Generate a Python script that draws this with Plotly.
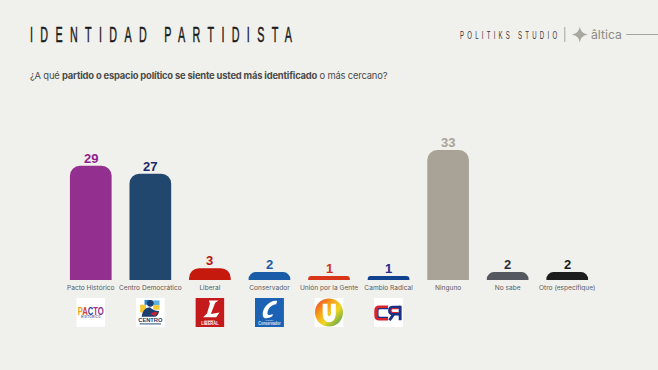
import base64
import plotly.graph_objects as go

categories = ["Pacto Histórico", "Centro Democrático", "Liberal", "Conservador",
              "Unión por la Gente", "Cambio Radical", "Ninguno", "No sabe", "Otro (especifique)"]
values = [29, 27, 3, 2, 1, 1, 33, 2, 2]
bar_colors = ["#93308f", "#22476f", "#c4190c", "#1a5ca8", "#d8351b", "#12428f", "#a8a396", "#55585f", "#1d1d1d"]
text_colors = ["#8f1f8f", "#1a2a6c", "#b8140a", "#1a5ca8", "#d0301a", "#1a2a8c", "#a8a396", "#2d2d3a", "#1d1d1d"]

BG = "#f0f0ec"


def uri(body):
    svg = f'<svg xmlns="http://www.w3.org/2000/svg" viewBox="0 0 60 60" width="60" height="60">{body}</svg>'
    return "data:image/svg+xml;base64," + base64.b64encode(svg.encode()).decode()


logo_pacto = uri('<rect width="60" height="60" fill="#fff"/>'
                 '<text x="30" y="35" text-anchor="middle" font-family="Liberation Sans" font-weight="700" font-size="24" textLength="54" lengthAdjust="spacingAndGlyphs">'
                 '<tspan fill="#e8a21c">P</tspan><tspan fill="#d5402a">A</tspan><tspan fill="#2c4a9c">C</tspan><tspan fill="#c6217f">T</tspan><tspan fill="#7c2d8f">O</tspan></text>'
                 '<text x="30" y="42" text-anchor="middle" font-family="Liberation Sans" font-weight="700" font-size="6" fill="#5a5a9a" textLength="40" lengthAdjust="spacing">HISTÓRICO</text>')
logo_centro = uri('<rect width="60" height="60" fill="#fff"/>'
                  '<rect x="9" y="14" width="12" height="16" fill="#f4c62f"/>'
                  '<rect x="18" y="4" width="12" height="10" fill="#2f83c9"/>'
                  '<rect x="36" y="5" width="13" height="10" fill="#5db0e0"/>'
                  '<rect x="36" y="15" width="13" height="9" fill="#f4c62f"/>'
                  '<circle cx="30" cy="11" r="7" fill="#1c3f72"/>'
                  '<path d="M12 39 Q14 20 29 19 Q36 26 48 27 Q47 37 40 39 Z" fill="#1c3f72"/>'
                  '<path d="M30 33 Q38 27 45 30 L40 37 Z" fill="#d5202a"/>'
                  '<text x="30" y="49" text-anchor="middle" font-family="Liberation Sans" font-weight="700" font-size="11" fill="#17365f" textLength="50" lengthAdjust="spacingAndGlyphs">CENTRO</text>'
                  '<rect x="8" y="52" width="44" height="3" fill="#6d84a8"/>')
logo_liberal = uri('<rect width="60" height="60" fill="#c41a1c"/>'
                   '<path d="M28 5 L48 5 L41 10 L32 33 L50 30 L43 40 L16 40 L24 32 L30 12 Z" fill="#fff"/>'
                   '<text x="30" y="47" text-anchor="middle" font-family="Liberation Sans" font-weight="700" font-size="5" fill="#f2d0d0">PARTIDO</text>'
                   '<text x="30" y="56" text-anchor="middle" font-family="Liberation Sans" font-weight="700" font-size="9.5" fill="#fff" textLength="36" lengthAdjust="spacingAndGlyphs">LIBERAL</text>')
logo_conservador = uri('<rect width="60" height="60" fill="#1c62b4"/>'
                       '<path d="M46 6 C30 4 16 20 16 34 C16 44 26 44 36 38 L37 33 C30 37 25 36 26 30 C27 22 34 14 44 13 Z" fill="#fff"/>'
                       '<text x="30" y="48" text-anchor="middle" font-family="Liberation Sans" font-size="5" fill="#dce8f6">Partido</text>'
                       '<text x="30" y="55" text-anchor="middle" font-family="Liberation Sans" font-weight="700" font-size="9.5" fill="#dce8f6" textLength="46" lengthAdjust="spacingAndGlyphs">Conservador</text>')
logo_union = uri('<defs><linearGradient id="g" x1="0" y1="0" x2="1" y2="1">'
                 '<stop offset="0" stop-color="#e8342a"/><stop offset="0.35" stop-color="#f6a11c"/>'
                 '<stop offset="0.6" stop-color="#f0d722"/><stop offset="1" stop-color="#2f9a5c"/></linearGradient></defs>'
                 '<rect width="60" height="60" fill="#fff"/>'
                 '<circle cx="30" cy="30" r="29" fill="url(#g)"/>'
                 '<path d="M17 12 L27 12 L27 34 Q30 42 34 34 L34 12 L44 12 L44 35 Q42 50 30 50 Q19 50 17 35 Z" fill="#fff"/>')
logo_cambio = uri('<rect width="60" height="60" fill="#fff"/>'
                  '<path d="M29 19 L11 19 Q4 19 4 26 L4 36 Q4 43 11 43 L29 43" fill="none" stroke="#d9232e" stroke-width="7"/>'
                  '<path d="M29 22 L12 22 Q8 22 8 26 L8 36 Q8 40 12 40 L29 40" fill="none" stroke="#1a2f86" stroke-width="2.5"/>'
                  '<path d="M54 19 L39 19 Q32 19 32 26 Q32 33 39 33 L54 33" fill="none" stroke="#1a2f86" stroke-width="6"/>'
                  '<path d="M54 16 L54 46" fill="none" stroke="#1a2f86" stroke-width="6"/>'
                  '<path d="M41 33 L32 46" fill="none" stroke="#1a2f86" stroke-width="6"/>'
                  '<path d="M50 22 L39 22 Q35 22 35 26 Q35 30 39 30 L50 30" fill="none" stroke="#d9232e" stroke-width="2.5"/>')
logos = [logo_pacto, logo_centro, logo_liberal, logo_conservador, logo_union, logo_cambio]

W, H = 658, 370
L, R = 60.8, 596.7
BASE, TOP = 280, 120
UNIT = 130 / 33

fig = go.Figure(go.Bar(
    x=categories, y=values, marker=dict(color=bar_colors, line_width=0),
    cliponaxis=False, hoverinfo="skip",
))


def px(x):
    return (x - L) / (R - L)


def py(y):
    return (BASE - y) / (BASE - TOP)


images = []
for i, src in enumerate(logos):
    images.append(dict(source=src, xref="paper", yref="paper", xanchor="center", yanchor="top",
                       x=(i + 0.5) / 9, y=py(298), sizex=29 / (R - L), sizey=29 / (BASE - TOP),
                       sizing="stretch", layer="above"))
spark = uri('<path d="M30 0 Q32 25 60 30 Q32 35 30 60 Q28 35 0 30 Q28 25 30 0 Z" fill="#a8a8a0"/>')
images.append(dict(source=spark, xref="paper", yref="paper", xanchor="center", yanchor="middle",
                   x=px(579.5), y=py(34.5), sizex=16 / (R - L), sizey=16 / (BASE - TOP),
                   sizing="stretch", layer="above"))


def note(text, x, y, size, color, family, anchor="left"):
    return dict(text=text, xref="paper", yref="paper", x=px(x), y=py(y),
                xanchor=anchor, yanchor="middle", showarrow=False, align="left",
                font=dict(size=size, color=color, family=family))


annotations = [
    note("IDENTIDAD PARTIDISTA", 28, 35, 21.5, "#1c1c1c", "Liberation Sans"),
    note("POLITIKS STUDIO", 458, 35, 11, "#3a3a3a", "Liberation Sans"),
    note("âltica", 589, 34.5, 12.2, "#8b8b85", "Inter"),
    note("¿A qué <b>partido o espacio político se siente usted más identificado</b> o más cercano?",
         27.5, 75, 9.4, "#4a4a4a", "Inter"),
]
for c, v, col in zip(categories, values, text_colors):
    annotations.append(dict(text=f"<b>{v}</b>", x=c, y=v, xref="x", yref="y", yanchor="bottom", yshift=-2,
                            showarrow=False, font=dict(family="Liberation Sans", size=13, color=col)))

shapes = [
    dict(type="line", xref="paper", yref="paper", x0=px(564.5), x1=px(564.5), y0=py(27), y1=py(42),
         line=dict(color="#a6a69e", width=1)),
    dict(type="line", xref="paper", yref="paper", x0=px(626), x1=px(658), y0=py(34.5), y1=py(34.5),
         line=dict(color="#a6a69e", width=1)),
]

fig.update_layout(
    width=W, height=H, autosize=False, showlegend=False,
    paper_bgcolor=BG, plot_bgcolor=BG,
    margin=dict(l=L, r=W - R, t=TOP, b=H - BASE, pad=0),
    bargap=0.30,
    xaxis=dict(type="category", range=[-0.5, 8.5], showgrid=False, showline=False, zeroline=False,
               ticks="", fixedrange=True, tickangle=0, automargin=False, ticklabelstandoff=2,
               tickfont=dict(family="Inter", size=6.6, color="#5c5c5c")),
    yaxis=dict(range=[0, (BASE - TOP) / UNIT], visible=False, fixedrange=True),
    barcornerradius=10,
    images=images, annotations=annotations, shapes=shapes,
)

css = """
var s=document.createElement('style');
s.textContent="html,body{margin:0;padding:0;overflow:hidden}"
+".annotation[data-index='0'] text{letter-spacing:14.7px;stroke:#1c1c1c;stroke-width:.5px;transform-box:fill-box;transform-origin:left center;transform:scaleX(.5)}"
+".annotation[data-index='1'] text{letter-spacing:5.9px;transform-box:fill-box;transform-origin:left center;transform:scaleX(.55)}"
+".annotation[data-index='3'] text{letter-spacing:-.18px}";
document.head.appendChild(s);
"""
fig.write_html("out.html", post_script=css, config=dict(displayModeBar=False))
